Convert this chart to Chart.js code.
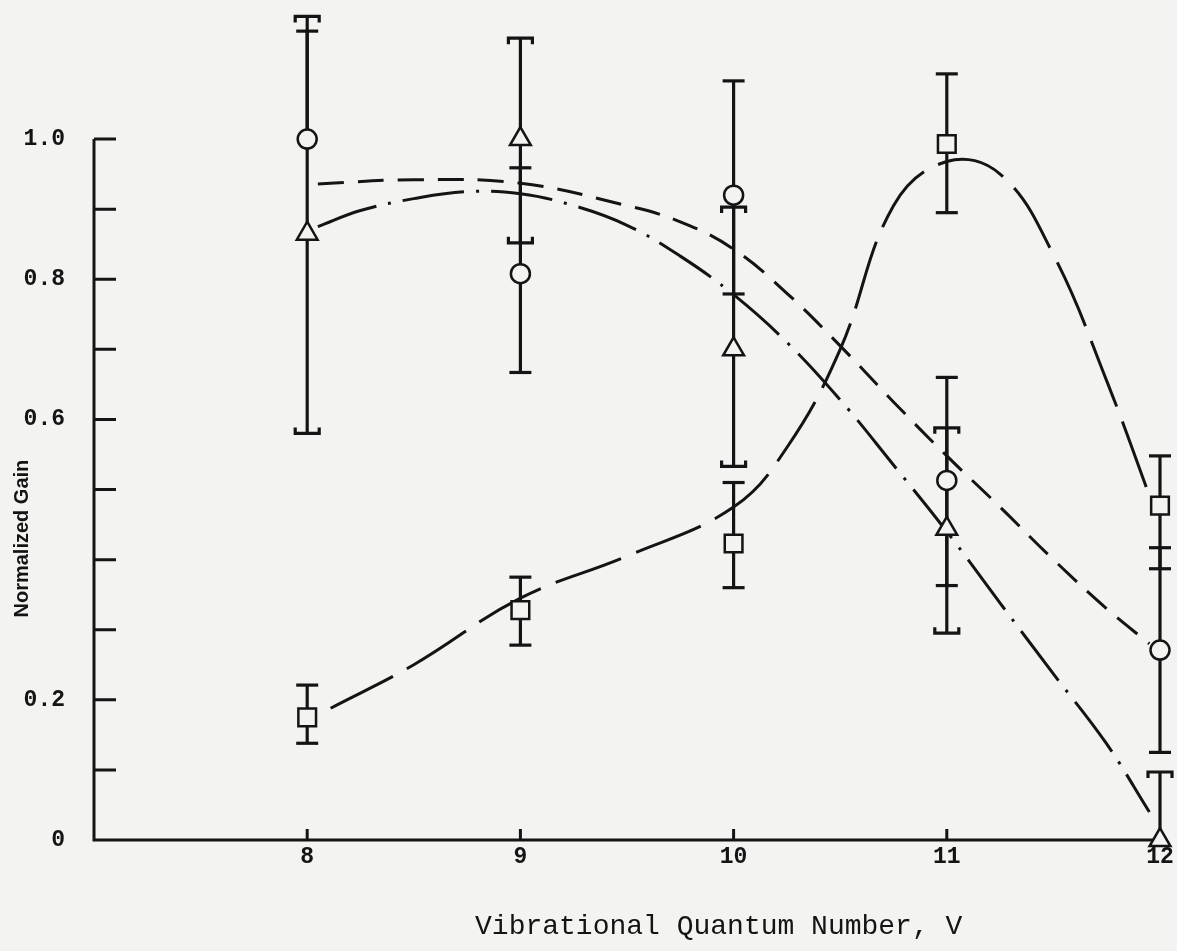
<!DOCTYPE html>
<html lang="en">
<head>
  <meta charset="utf-8"/>
  <title>Normalized Gain vs Vibrational Quantum Number</title>
  <script src="https://cdn.jsdelivr.net/npm/chart.js"></script>
  <style>
    html, body { margin: 0; padding: 0; background: #f3f3f1; }
    #wrap { width: 1177px; height: 951px; }
  </style>
</head>
<body>
  <div id="wrap"><canvas id="gainChart" width="1177" height="951"></canvas></div>

  <script>
  // ── DATA ─────────────────────────────────────────
  const vLevels = [8, 9, 10, 11, 12];

  // circles (short dashed fit)
  const circleGain = [1.0, 0.808, 0.92, 0.513, 0.271];
  const circleLow  = [null, 0.667, 0.779, 0.363, 0.125];
  const circleHigh = [1.154, 0.959, 1.083, 0.660, 0.417];

  // triangles (dash-dot fit)
  const triangleGain = [0.865, 1.0, 0.70, 0.444, 0.0];
  const triangleLow  = [0.580, 0.852, 0.533, 0.295, null];
  const triangleHigh = [1.175, 1.144, 0.903, 0.588, 0.097];

  // squares (long dashed fit)
  const squareGain = [0.175, 0.328, 0.423, 0.993, 0.477];
  const squareLow  = [0.138, 0.278, 0.36, 0.895, 0.387];
  const squareHigh = [0.221, 0.375, 0.51, 1.093, 0.548];

  // fitted curves
  const circleFitV    = [8.05, 8.5, 9.0, 9.5, 9.75, 10.0, 10.25, 10.5, 10.75, 11.0, 11.25, 11.5, 11.75, 11.95];
  const circleFitGain = [0.936, 0.942, 0.937, 0.905, 0.882, 0.843, 0.78, 0.705, 0.625, 0.548, 0.475, 0.40, 0.33, 0.28];

  const triangleFitV    = [8.05, 8.25, 8.5, 8.75, 9.0, 9.25, 9.5, 9.75, 10.0, 10.25, 10.5, 10.75, 11.0, 11.25, 11.5, 11.75, 11.95];
  const triangleFitGain = [0.875, 0.898, 0.915, 0.925, 0.922, 0.905, 0.877, 0.833, 0.778, 0.71, 0.628, 0.535, 0.44, 0.338, 0.237, 0.137, 0.04];

  const squareFitV    = [8.11, 8.5, 9.0, 9.5, 10.0, 10.25, 10.5, 10.75, 11.0, 11.25, 11.5, 11.75, 11.97];
  const squareFitGain = [0.188, 0.25, 0.345, 0.405, 0.475, 0.56, 0.70, 0.905, 0.968, 0.95, 0.835, 0.655, 0.475];

  // axes
  const xMin = 7, xMax = 12, yMin = 0, yMax = 1.177, yAxisTop = 1.0;
  const xTickValues = [8, 9, 10, 11, 12];
  const yTickValues = [0, 0.1, 0.2, 0.3, 0.4, 0.5, 0.6, 0.7, 0.8, 0.9, 1.0];
  const yTickLabels = ['0', '', '0.2', '', '', '', '0.6', '', '0.8', '', '1.0'];
  // ─────────────────────────────────────────────────

  const ink = '#141414';
  const paper = '#f3f3f1';
  const tickFont = { family: 'Liberation Mono', size: 23, weight: 'bold' };

  const errorSeries = [
    { low: circleLow,   high: circleHigh,   mid: circleGain,   hooked: false },
    { low: triangleLow, high: triangleHigh, mid: triangleGain, hooked: true  },
    { low: squareLow,   high: squareHigh,   mid: squareGain,   hooked: false }
  ];

  const toXY = (xs, ys) => xs.map((v, i) => ({ x: v, y: ys[i] }));

  // axis lines stop at 1.0 like the original, ticks point inward
  const paperAxes = {
    id: 'paperAxes',
    beforeDatasetsDraw(chart) {
      const { ctx, scales: { x, y } } = chart;
      const x0 = x.getPixelForValue(xMin);
      const y0 = y.getPixelForValue(0);
      ctx.save();
      ctx.strokeStyle = ink;
      ctx.lineWidth = 3;
      ctx.beginPath();
      ctx.moveTo(x0, y.getPixelForValue(yAxisTop));
      ctx.lineTo(x0, y0);
      ctx.lineTo(x.getPixelForValue(xMax), y0);
      y.ticks.forEach(t => {
        if (t.value === 0) return;
        const py = y.getPixelForValue(t.value);
        ctx.moveTo(x0, py);
        ctx.lineTo(x0 + 22, py);
      });
      x.ticks.forEach(t => {
        const px = x.getPixelForValue(t.value);
        ctx.moveTo(px, y0);
        ctx.lineTo(px, y0 - 11);
      });
      ctx.stroke();

      // error bars
      ctx.lineWidth = 3.2;
      errorSeries.forEach(s => {
        vLevels.forEach((v, i) => {
          const px = x.getPixelForValue(v);
          const lo = s.low[i] == null ? s.mid[i] : s.low[i];
          const hi = s.high[i] == null ? s.mid[i] : s.high[i];
          ctx.beginPath();
          ctx.moveTo(px, y.getPixelForValue(lo));
          ctx.lineTo(px, y.getPixelForValue(hi));
          ctx.stroke();
          [[s.high[i], 1], [s.low[i], -1]].forEach(([val, dir]) => {
            if (val == null) return;
            const py = y.getPixelForValue(val);
            const w = s.hooked ? 12 : 11;
            ctx.beginPath();
            if (s.hooked) {
              ctx.moveTo(px - w, py + dir * 6);
              ctx.lineTo(px - w, py);
              ctx.lineTo(px + w, py);
              ctx.lineTo(px + w, py + dir * 6);
            } else {
              ctx.moveTo(px - w, py);
              ctx.lineTo(px + w, py);
            }
            ctx.stroke();
          });
        });
      });
      ctx.restore();
    },
    afterDraw(chart) {
      const { ctx, scales: { x, y } } = chart;
      ctx.save();
      ctx.fillStyle = ink;
      ctx.textAlign = 'center';
      ctx.textBaseline = 'middle';
      ctx.font = '28px "Liberation Mono"';
      ctx.fillText('Vibrational Quantum Number, V', x.getPixelForValue(9.93), chart.height - 24);
      ctx.translate(22, y.getPixelForValue(0.43));
      ctx.rotate(-Math.PI / 2);
      ctx.font = 'bold 20px "Liberation Sans"';
      ctx.fillText('Normalized Gain', 0, 0);
      ctx.restore();
    }
  };

  const markerBase = {
    type: 'scatter',
    showLine: false,
    clip: false,
    pointBackgroundColor: paper,
    pointBorderColor: ink,
    pointBorderWidth: 2.5
  };
  const fitBase = {
    type: 'line',
    clip: false,
    borderColor: ink,
    borderWidth: 3,
    pointRadius: 0,
    fill: false,
    tension: 0.4
  };

  new Chart(document.getElementById('gainChart'), {
    data: {
      datasets: [
        { ...markerBase, label: 'circles',   data: toXY(vLevels, circleGain),   pointStyle: 'circle',   pointRadius: 9.5 },
        { ...markerBase, label: 'triangles', data: toXY(vLevels, triangleGain), pointStyle: 'triangle', pointRadius: 12 },
        { ...markerBase, label: 'squares',   data: toXY(vLevels, squareGain),   pointStyle: 'rect',     pointRadius: 12.5 },
        { ...fitBase, label: 'circle fit',   data: toXY(circleFitV, circleFitGain),     borderDash: [26, 14] },
        { ...fitBase, label: 'triangle fit', data: toXY(triangleFitV, triangleFitGain), borderDash: [62, 12, 3, 12] },
        { ...fitBase, label: 'square fit',   data: toXY(squareFitV, squareFitGain),     borderDash: [70, 16] }
      ]
    },
    options: {
      responsive: false,
      animation: false,
      layout: { padding: { top: 14, right: 17, left: 0, bottom: 0 } },
      plugins: { legend: { display: false }, tooltip: { enabled: false } },
      scales: {
        x: {
          type: 'linear', min: xMin, max: xMax,
          afterBuildTicks: s => { s.ticks = xTickValues.map(v => ({ value: v })); },
          afterFit: s => { s.height = 111; s.paddingLeft = 0; s.paddingRight = 0; },
          grid: { display: false }, border: { display: false },
          ticks: { font: tickFont, color: ink, padding: -5, autoSkip: false, maxRotation: 0, callback: v => String(v) }
        },
        y: {
          type: 'linear', min: yMin, max: yMax,
          afterBuildTicks: s => { s.ticks = yTickValues.map(v => ({ value: v })); },
          afterFit: s => { s.width = 94; s.paddingTop = 0; s.paddingBottom = 0; },
          grid: { display: false }, border: { display: false },
          ticks: { font: tickFont, color: ink, padding: 21, autoSkip: false, callback: (v, i) => yTickLabels[i] }
        }
      }
    },
    plugins: [paperAxes]
  });
  </script>
</body>
</html>
